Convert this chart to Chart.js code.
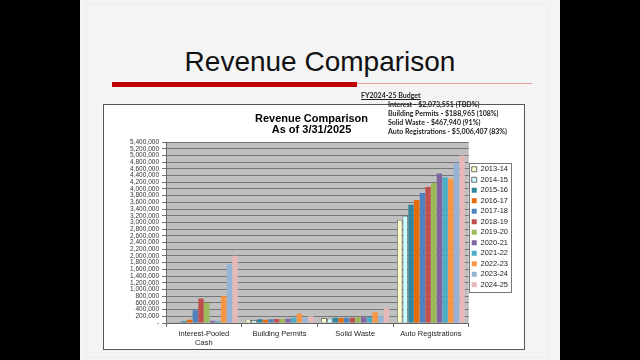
<!DOCTYPE html>
<html>
<head>
<meta charset="utf-8">
<script src="https://cdn.jsdelivr.net/npm/chart.js@4.4.1/dist/chart.umd.min.js"></script>
<style>
  html, body { margin: 0; padding: 0; background: #000; width: 640px; height: 360px; overflow: hidden; }
  .slide { position: absolute; left: 80px; top: 0; width: 480px; height: 360px; background: #f4f4f4; }
  .frame { position: absolute; left: 6px; top: 4px; width: 460px; height: 352px; border: 1px solid #ececec; }
  .title { position: absolute; left: 0; width: 480px; top: 46px; text-align: center;
    font: 28px 'Liberation Sans', Arial, sans-serif; color: #111; }
  .redbar { position: absolute; left: 32px; top: 82px; width: 245px; height: 5px; background: #c00000; }
  .redline { position: absolute; left: 277px; top: 83px; width: 175px; height: 1px; background: #e4a0a0; }
  .budget { position: absolute; left: 281px; top: 91px; z-index: 2;
    font: bold 7px Lato, 'Liberation Sans', sans-serif; color: #222; line-height: 9px; }
  .budget u { display: block; margin-bottom: 0px; }
  .budget div { padding-left: 27px; }
  .chartbox { position: absolute; left: 23px; top: 104px; width: 420px; height: 244px;
    background: #fff; border: 1px solid #555; }
  .chartbox canvas { position: absolute; left: 0; top: 0; }
</style>
</head>
<body>
<div class="slide">
  <div class="frame"></div>
  <div class="title">Revenue Comparison</div>
  <div class="redbar"></div>
  <div class="redline"></div>
  <div class="budget">
    <u>FY2024-25 Budget</u>
    <div>Interest - $2,073,551 (TBD%)</div>
    <div>Building Permits - $188,965 (108%)</div>
    <div>Solid Waste - $467,940 (91%)</div>
    <div>Auto Registrations - $5,006,407 (83%)</div>
  </div>
  <div class="chartbox"><canvas id="chart" width="420" height="244"></canvas></div>
</div>
<script>
const categories = [['Interest-Pooled', 'Cash'], 'Building Permits', 'Solid Waste', 'Auto Registrations'];
const years = ['2013-14', '2014-15', '2015-16', '2016-17', '2017-18', '2018-19',
  '2019-20', '2020-21', '2021-22', '2022-23', '2023-24', '2024-25'];
const yearColors = ['#ffffcc', '#ccffff', '#31859c', '#e46c0a', '#4f81bd', '#c0504d',
  '#9bbb59', '#8064a2', '#4bacc6', '#f79646', '#95b3d7', '#e6b9b8'];

// one value per fiscal year
const interestPooled = [30000, 30000, 50000, 100000, 380000, 730000, 600000, 70000, 50000, 800000, 1750000, 2010000];
const buildingPermits = [100000, 90000, 110000, 100000, 110000, 120000, 120000, 130000, 160000, 280000, 160000, 200000];
const solidWaste = [150000, 130000, 160000, 150000, 160000, 160000, 170000, 170000, 180000, 320000, 220000, 450000];
const autoRegistrations = [3080000, 3200000, 3530000, 3670000, 3880000, 4060000, 4180000, 4460000, 4350000, 4300000, 4780000, 5000000];

const FONT = "'Liberation Sans', Arial, sans-serif";

const datasets = years.map((y, i) => ({
  label: y,
  data: [interestPooled[i], buildingPermits[i], solidWaste[i], autoRegistrations[i]],
  backgroundColor: yearColors[i],
  borderColor: i < 2 ? '#333' : yearColors[i],
  borderWidth: i < 2 ? 0.7 : 0,
  barPercentage: 0.95,
  categoryPercentage: 0.9,
}));

const plotBg = {
  id: 'plotBg',
  afterLayout(chart) {
    // the title in the picture sits a bit left of centre
    chart.titleBlock.left -= 24;
  },
  beforeDraw(chart) {
    const { ctx, chartArea: a } = chart;
    ctx.save();
    ctx.fillStyle = '#c0c0c0';
    ctx.fillRect(a.left, a.top, a.right - a.left, a.bottom - a.top);
    ctx.restore();
  },
  afterDraw(chart) {
    const boxes = chart.legend.legendHitBoxes;
    if (!boxes || !boxes.length) return;
    const left = Math.min(...boxes.map((b) => b.left)) - 3;
    const top = Math.min(...boxes.map((b) => b.top)) - 3;
    const right = Math.max(...boxes.map((b) => b.left + b.width)) + 3;
    const bottom = Math.max(...boxes.map((b) => b.top + b.height)) + 3;
    const ctx = chart.ctx;
    ctx.save();
    ctx.strokeStyle = '#777';
    ctx.lineWidth = 1;
    ctx.strokeRect(Math.round(left) + 0.5, Math.round(top) + 0.5, Math.round(right - left), Math.round(bottom - top));
    ctx.restore();
  },
};

new Chart(document.getElementById('chart'), {
  type: 'bar',
  data: { labels: categories, datasets },
  plugins: [plotBg],
  options: {
    responsive: false,
    animation: false,
    devicePixelRatio: 1,
    layout: { padding: { left: 25, right: 6, bottom: 0 } },
    plugins: {
      title: {
        display: true,
        text: ['Revenue Comparison', 'As of 3/31/2025'],
        color: '#000',
        font: { family: FONT, size: 11, weight: 'bold', lineHeight: 1 },
        padding: { top: 8, bottom: 7 },
      },
      legend: {
        position: 'right',
        labels: {
          boxWidth: 5,
          boxHeight: 5,
          padding: 3,
          color: '#222',
          font: { family: FONT, size: 7.5 },
        },
      },
      tooltip: { enabled: false },
    },
    scales: {
      x: {
        grid: { drawOnChartArea: false, offset: true, color: '#666', tickLength: 4 },
        border: { color: '#666' },
        ticks: { color: '#222', font: { family: FONT, size: 7.5 }, padding: 2, maxRotation: 0, autoSkip: false },
      },
      y: {
        min: 0,
        max: 5400000,
        grid: { color: '#777', tickLength: 4 },
        border: { color: '#666' },
        afterFit(s) { s.width = 37; },
        ticks: {
          stepSize: 200000,
          autoSkip: false,
          color: '#333',
          padding: 3,
          font: { family: FONT, size: 6.5 },
          callback: (v) => (v === 0 ? '-' : v.toLocaleString('en-US')),
        },
      },
    },
  },
});
</script>
</body>
</html>
